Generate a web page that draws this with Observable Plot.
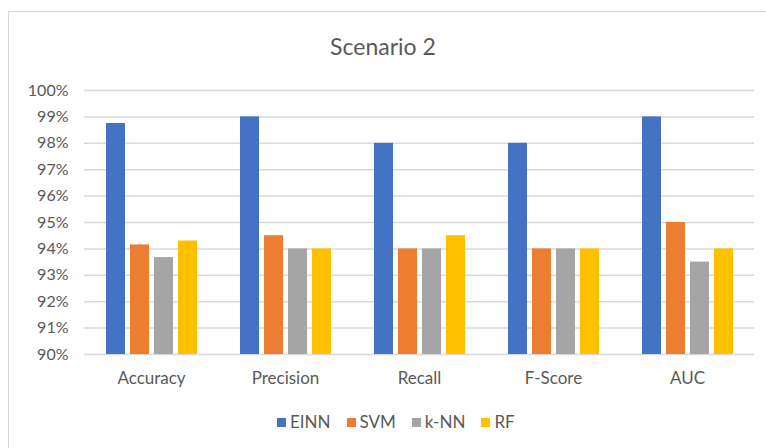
<!DOCTYPE html>
<html>
<head>
<meta charset="utf-8">
<script src="https://cdn.jsdelivr.net/npm/d3@7"></script>
<script src="https://cdn.jsdelivr.net/npm/@observablehq/plot@0.6"></script>
<style>
  html, body { margin: 0; padding: 0; background: #fff; overflow: hidden; }
  #wrap { position: relative; width: 766px; height: 448px; overflow: hidden; font-family: Lato, "Open Sans", sans-serif; color: #595959; }
  #frame { position: absolute; left: 8px; top: 11px; width: 800px; height: 500px; border: 1px solid #D9D9D9; box-sizing: border-box; }
  #title { position: absolute; left: 0; width: 766px; top: 31px; text-align: center; font-size: 23px; line-height: 30px; }
  #chart { position: absolute; left: 0; top: 70px; }
  #legend { position: absolute; left: 277px; top: 411px; display: flex; align-items: center; font-size: 17px; line-height: 22px; }
  #legend .item { display: flex; align-items: center; margin-right: 16px; }
  #legend .sw { width: 9px; height: 9px; margin-right: 4px; }
</style>
</head>
<body>
<div id="wrap">
  <div id="frame"></div>
  <div id="title">Scenario 2</div>
  <div id="chart"></div>
  <div id="legend"></div>
</div>
<script>
const categories = ["Accuracy", "Precision", "Recall", "F-Score", "AUC"];
const series = ["EINN", "SVM", "k-NN", "RF"];
const colors = ["#4472C4", "#ED7D31", "#A5A5A5", "#FFC000"];
const einn = [98.75, 99, 98, 98, 99];
const svm  = [94.15, 94.5, 94, 94, 95];
const knn  = [93.67, 94, 94, 94, 93.5];
const rf   = [94.3, 94, 94.5, 94, 94];
const yTicks = [90, 91, 92, 93, 94, 95, 96, 97, 98, 99, 100];

const seriesValues = [einn, svm, knn, rf];
const data = [];
categories.forEach((c, i) => {
  series.forEach((s, j) => {
    data.push({category: c, model: s, value: seriesValues[j][i], base: 90});
  });
});

const chart = Plot.plot({
  width: 766,
  height: 320,
  marginLeft: 82,
  marginRight: 11,
  marginTop: 20,
  marginBottom: 36,
  style: {fontFamily: "Lato, 'Open Sans', sans-serif", color: "#595959", background: "transparent"},
  fx: {domain: categories, padding: 0, label: null, axis: null},
  x: {domain: series, paddingInner: 0.22, paddingOuter: 0.88, axis: null},
  y: {domain: [90, 100], label: null},
  color: {domain: series, range: colors},
  marks: [
    Plot.ruleY(yTicks, {stroke: "#D9D9D9", strokeWidth: 1.5}),
    Plot.barY(data, {fx: "category", x: "model", y1: "base", y2: "value", fill: "model"}),
    Plot.axisY({ticks: yTicks, tickSize: 0, tickPadding: 16, tickFormat: d => d + "%", fontSize: 16, fill: "#595959", label: null}),
    Plot.axisFx({tickSize: 0, tickPadding: 17, fontSize: 17, fill: "#595959", label: null, anchor: "bottom"})
  ]
});
document.getElementById("chart").appendChild(chart);

const legend = document.getElementById("legend");
series.forEach((s, i) => {
  const item = document.createElement("div");
  item.className = "item";
  const sw = document.createElement("div");
  sw.className = "sw";
  sw.style.background = colors[i];
  const t = document.createElement("span");
  t.textContent = s;
  item.appendChild(sw);
  item.appendChild(t);
  legend.appendChild(item);
});
</script>
</body>
</html>
